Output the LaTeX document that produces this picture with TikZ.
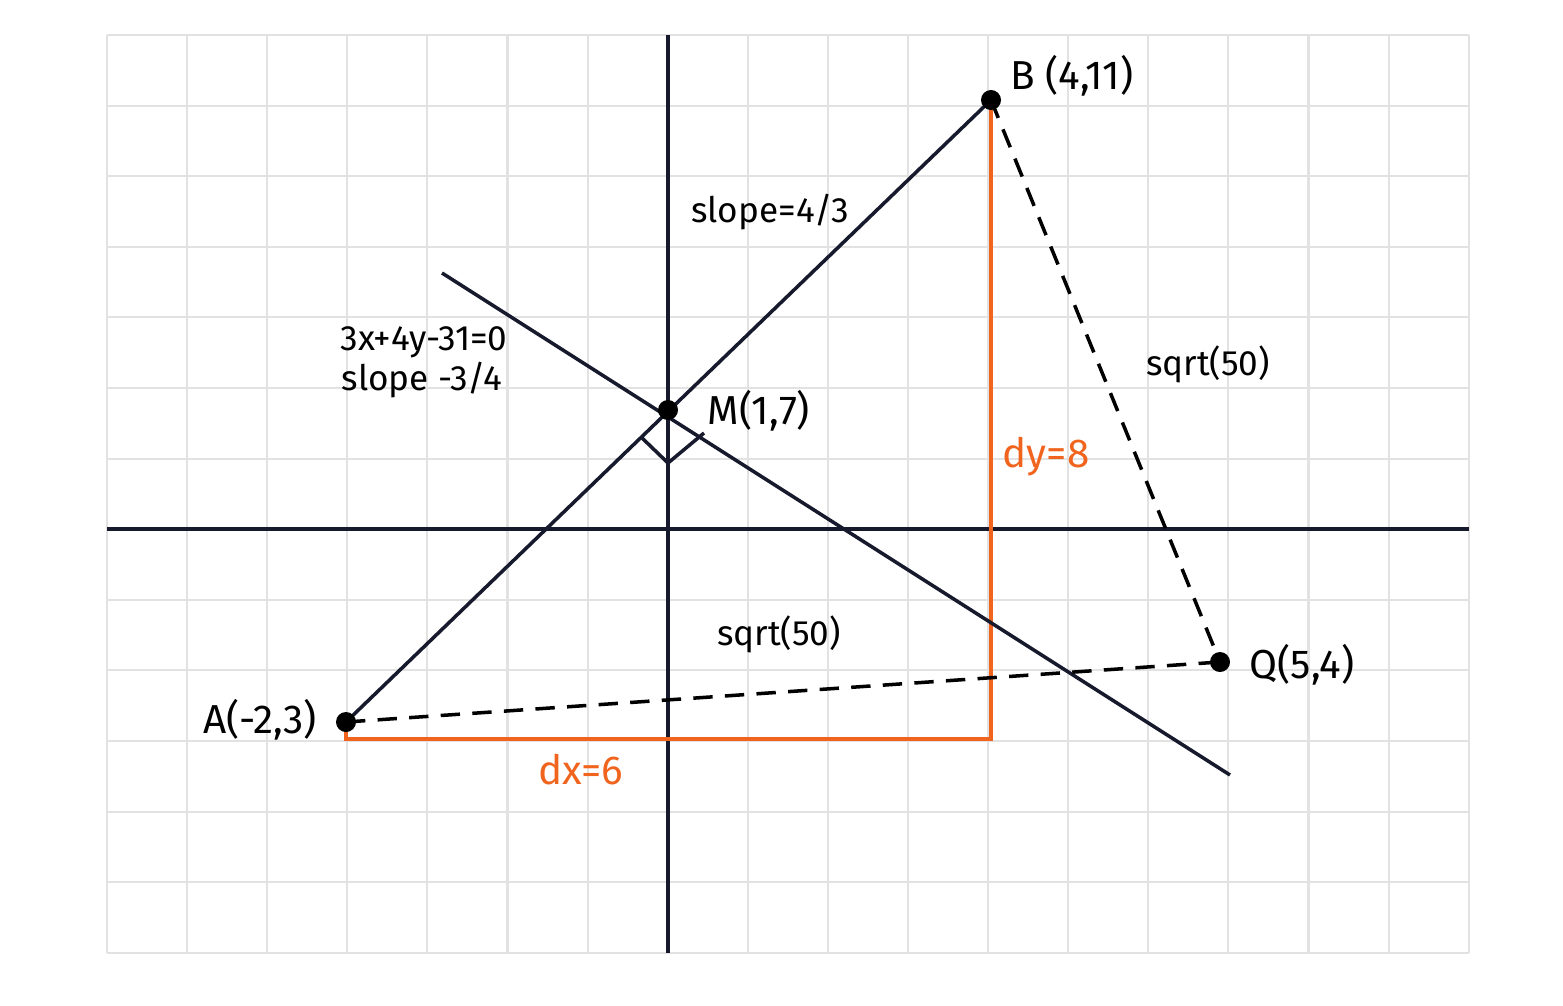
\documentclass[tikz,border=0pt]{standalone}
\usepackage{fontspec}
\setmainfont{Fira Sans}
\usepackage{tikz}

\definecolor{navy}{RGB}{22,26,44}
\definecolor{dorange}{RGB}{240,100,30}
\definecolor{gridgray}{RGB}{226,226,226}

\begin{document}
\begin{tikzpicture}[x=0.01cm,y=-0.01cm,
    ln/.style={navy,line width=1pt},
    dsh/.style={black,line width=1pt,dash pattern=on 5.5pt off 3.5pt},
    orng/.style={dorange,line width=1.2pt},
    pt/.style={circle,fill=black,inner sep=0pt,minimum size=0.2cm},
    lbl/.style={font=\fontsize{11.5}{13}\selectfont,inner sep=1pt},
    sm/.style={font=\fontsize{10}{12}\selectfont,inner sep=1pt}]
    \useasboundingbox (0,0) rectangle (1563,1006);
    % grid
    \foreach \i in {0,...,17} \draw[gridgray,line width=0.6pt] (107+\i*80.1,35) -- (107+\i*80.1,953);
    \foreach \j in {0,...,13} \draw[gridgray,line width=0.6pt] (107,35+\j*70.6) -- (1469,35+\j*70.6);
    % axes
    \draw[ln] (668,35) -- (668,953);
    \draw[ln] (107,529) -- (1469,529);
    % points
    \coordinate (A) at (346,722);
    \coordinate (B) at (991,100);
    \coordinate (M) at (668,410);
    \coordinate (Q) at (1220,662);
    \coordinate (P1) at (442,273);
    \coordinate (P2) at (1230,775);
    \coordinate (C1) at (346,739);
    \coordinate (C2) at (991,739);
    \coordinate (R1) at (641,437);
    \coordinate (R2) at (668,463);
    \coordinate (R3) at (704,433);
    % dx, dy
    \draw[orng] (A) -- (C1) -- (C2) -- (B);
    % lines
    \draw[ln] (A) -- (B);
    \draw[ln] (P1) -- (P2);
    \draw[ln] (R1) -- (R2) -- (R3);
    \draw[dsh] (A) -- (Q);
    \draw[dsh] (B) -- (Q);
    \foreach \p in {A,B,M,Q} \node[pt] at (\p) {};
    % labels
    \node[lbl] (lA) at (260,720) {A(-2,3)};
    \node[lbl] (lB) at (1072,76) {B (4,11)};
    \node[lbl] (lM) at (759,411) {M(1,7)};
    \node[lbl] (lQ) at (1302,665) {Q(5,4)};
    \node[sm] (lslope) at (770,212) {slope=4/3};
    \node[sm] (leq) at (424,342) {3x+4y-31=0};
    \node[sm] (lperp) at (422,380) {slope -3/4};
    \node[sm] (lAQ) at (779,634) {sqrt(50)};
    \node[sm] (lBQ) at (1208,364) {sqrt(50)};
    \node[lbl,dorange] (ldy) at (1046,457) {dy=8};
    \node[lbl,dorange] (ldx) at (581,770) {dx=6};
\end{tikzpicture}
\end{document}
